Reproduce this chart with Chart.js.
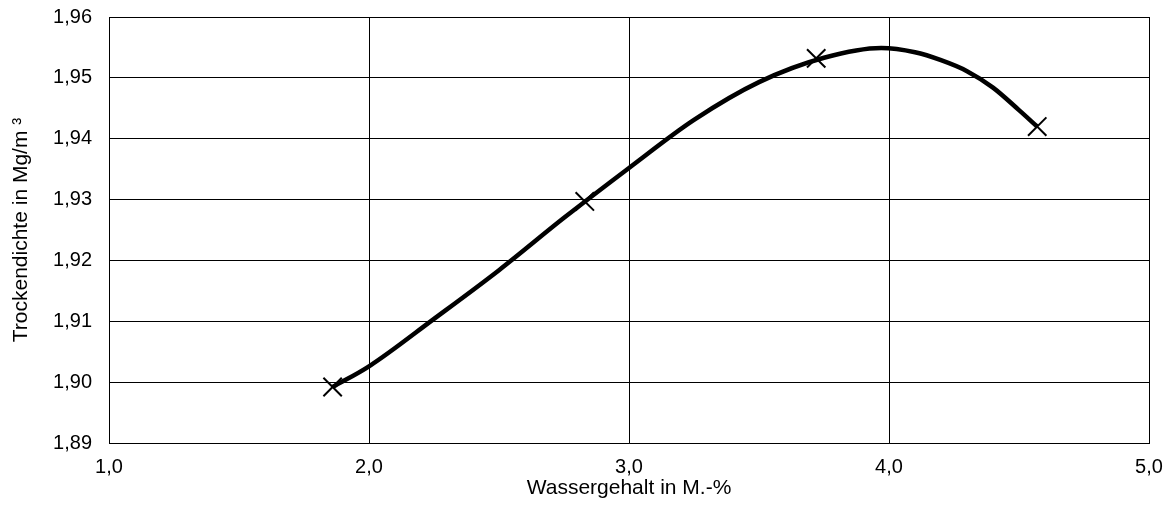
<!DOCTYPE html>
<html lang="de">
<head>
<meta charset="utf-8">
<title>Proctorkurve</title>
<script src="https://cdn.jsdelivr.net/npm/chart.js@4/dist/chart.umd.min.js"></script>
<style>
  html, body { margin: 0; padding: 0; background: #fff; }
  #wrap { width: 1176px; height: 520px; position: relative; }
</style>
</head>
<body>
<div id="wrap"><canvas id="proctorChart"></canvas></div>
<script>
// Messpunkte (Wassergehalt / Trockendichte)
const waterContent = [1.86, 2.83, 3.72, 4.57]
const dryDensity = [1.8992, 1.9297, 1.9532, 1.9420]

// Ausgleichskurve
const curveX = [1.86, 2.0, 2.25, 2.5, 2.75, 3.0, 3.25, 3.5, 3.75, 3.97, 4.1, 4.2, 4.3, 4.4, 4.5, 4.57]
const curveY = [1.8992, 1.9026, 1.9104, 1.9184, 1.9270, 1.9352, 1.9431, 1.9493, 1.9533, 1.9549, 1.9542, 1.9529, 1.9511, 1.9484, 1.9447, 1.9420]

// Achsen
const xTicks = [1.0, 2.0, 3.0, 4.0, 5.0]
const yTicks = [1.89, 1.90, 1.91, 1.92, 1.93, 1.94, 1.95, 1.96]

;(() => {
  const fontFamily = "'Liberation Sans', Arial, Helvetica, sans-serif"
  Chart.defaults.font.family = fontFamily
  Chart.defaults.font.size = 20
  Chart.defaults.color = "#000"

  const toPoints = (xs, ys) => xs.map((x, i) => ({ x: x, y: ys[i] }))

  const data = {
    datasets: [
      {
        label: "Kurve",
        data: toPoints(curveX, curveY),
        showLine: true,
        borderColor: "#000",
        borderWidth: 4.5,
        pointRadius: 0,
        cubicInterpolationMode: "monotone",
        fill: false,
      },
      {
        label: "Messwerte",
        data: toPoints(waterContent, dryDensity),
        showLine: false,
        pointStyle: "crossRot",
        pointRadius: 13,
        borderColor: "#000",
        backgroundColor: "#000",
        pointBorderWidth: 2,
      },
    ],
  }

  const options = {
    responsive: true,
    maintainAspectRatio: false,
    animation: false,
    layout: { padding: { top: 17, right: 27, left: 0, bottom: 0 } },
    plugins: {
      legend: { display: false },
      tooltip: { enabled: false },
    },
    scales: {
      x: {
        type: "linear",
        min: xTicks[0],
        max: xTicks[xTicks.length - 1],
        afterBuildTicks: (scale) => { scale.ticks = xTicks.map((v) => ({ value: v })) },
        afterFit: (scale) => {
          scale.height = 77
          scale.paddingLeft = 0
          scale.paddingRight = 0
        },
        ticks: {
          padding: 12,
          callback: (v) => v.toFixed(1).replace(".", ","),
        },
        grid: { color: "#000", lineWidth: 1, drawTicks: false },
        border: { color: "#000", width: 1 },
        title: {
          display: true,
          text: "Wassergehalt in M.-%",
          font: { size: 21 },
          padding: { top: 0, bottom: 19 },
        },
      },
      y: {
        type: "linear",
        min: yTicks[0],
        max: yTicks[yTicks.length - 1],
        afterBuildTicks: (scale) => { scale.ticks = yTicks.map((v) => ({ value: v })) },
        afterFit: (scale) => {
          scale.width = 109
          scale.paddingTop = 0
          scale.paddingBottom = 0
        },
        ticks: {
          padding: 17,
          callback: (v) => v.toFixed(2).replace(".", ","),
        },
        grid: { color: "#000", lineWidth: 1, drawTicks: false },
        border: { color: "#000", width: 1 },
        title: {
          display: true,
          text: "Trockendichte in Mg/m \u00b3",
          font: { size: 21 },
          padding: { top: 9, bottom: 0 },
        },
      },
    },
  }

  new Chart(document.getElementById("proctorChart"), {
    type: "scatter",
    data: data,
    options: options,
  })
})()
</script>
</body>
</html>
